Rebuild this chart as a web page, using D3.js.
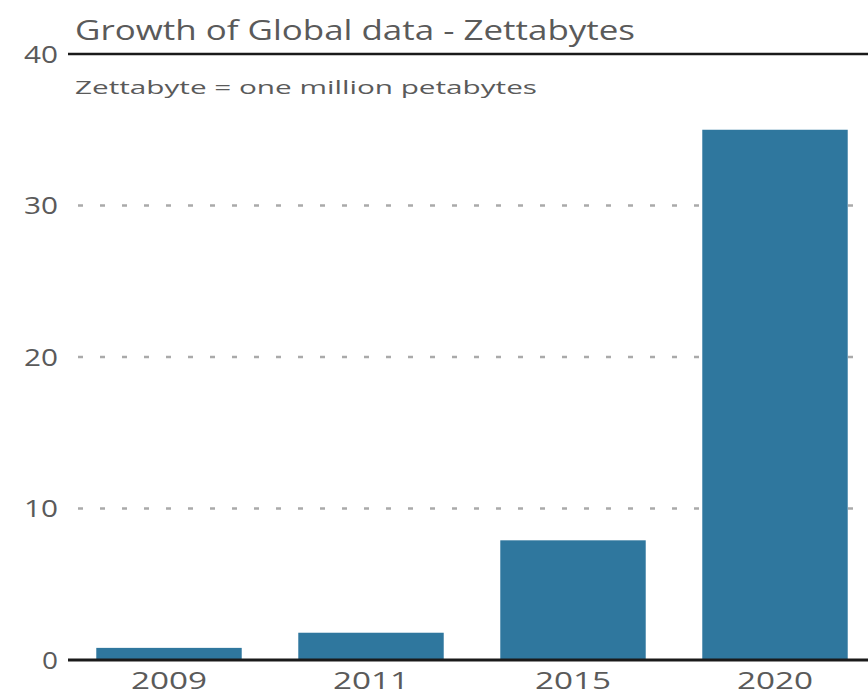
<!DOCTYPE html>
<html><head><meta charset="UTF-8">
<style>
body { margin: 0; background: #fff; }
text { font-family: "Open Sans", sans-serif; fill: #5a5a5a; }
.grid line { stroke: #aaa; stroke-width: 2.5; stroke-dasharray: 5,17; }
</style>
<script src="https://cdn.jsdelivr.net/npm/d3@7/dist/d3.min.js"></script>
</head><body>
<div id="chart"></div>
<script>
// data
var years = ["2009", "2011", "2015", "2020"];
var zettabytes = [0.8, 1.8, 7.9, 35];
var yTicks = [0, 10, 20, 30, 40];
var title = "Growth of Global data - Zettabytes";
var subtitle = "Zettabyte = one million petabytes";

var width = 868, height = 696;
var margin = {top: 54, right: 0, bottom: 36, left: 68};

var svg = d3.select("#chart").append("svg")
    .attr("width", width)
    .attr("height", height);

var x = d3.scaleBand()
    .domain(years)
    .range([margin.left, width + 8])
    .paddingInner(0.28)
    .paddingOuter(0.14);

var y = d3.scaleLinear()
    .domain([0, 40])
    .range([height - margin.bottom, margin.top]);

// dotted gridlines
svg.append("g").attr("class", "grid")
  .selectAll("line")
  .data(yTicks.filter(function(d) { return d > 0 && d < 40; }))
  .enter().append("line")
    .attr("x1", margin.left + 10)
    .attr("x2", width)
    .attr("y1", function(d) { return y(d); })
    .attr("y2", function(d) { return y(d); });

// bars
svg.selectAll(".bar")
    .data(zettabytes)
    .enter().append("rect")
    .attr("class", "bar")
    .attr("x", function(d, i) { return x(years[i]); })
    .attr("y", function(d) { return y(d); })
    .attr("width", x.bandwidth())
    .attr("height", function(d) { return y(0) - y(d); })
    .attr("fill", "#2f779e");

// y tick labels
svg.selectAll(".ylab")
    .data(yTicks)
    .enter().append("text")
    .attr("x", margin.left - 10)
    .attr("y", function(d) { return y(d); })
    .attr("dy", "0.38em")
    .attr("text-anchor", "end")
    .style("font-size", "23px")
    .attr("textLength", function(d) { return d == 0 ? 16 : 34; })
    .attr("lengthAdjust", "spacingAndGlyphs")
    .text(function(d) { return d; });

// top rule and baseline
svg.append("line")
    .attr("x1", margin.left).attr("x2", width)
    .attr("y1", y(40)).attr("y2", y(40))
    .attr("stroke", "#1a1a1a").attr("stroke-width", 2.5);

svg.append("line")
    .attr("x1", margin.left).attr("x2", width)
    .attr("y1", y(0)).attr("y2", y(0))
    .attr("stroke", "#1a1a1a").attr("stroke-width", 3);

// x labels
svg.append("g")
    .attr("transform", "translate(0," + y(0) + ")")
    .call(d3.axisBottom(x).tickSize(0).tickPadding(12))
    .call(function(g) { g.select(".domain").remove(); })
    .selectAll("text")
    .style("font-size", "24px")
    .style("font-family", "'Open Sans', sans-serif")
    .attr("fill", "#5a5a5a")
    .attr("textLength", 76)
    .attr("lengthAdjust", "spacingAndGlyphs");

// title + subtitle
svg.append("text")
    .attr("x", 75).attr("y", 40)
    .style("font-size", "27px")
    .attr("textLength", 560)
    .attr("lengthAdjust", "spacingAndGlyphs")
    .text(title);

svg.append("text")
    .attr("x", 75).attr("y", 94)
    .style("font-size", "19px")
    .attr("textLength", 462)
    .attr("lengthAdjust", "spacingAndGlyphs")
    .text(subtitle);
</script>
</body></html>
